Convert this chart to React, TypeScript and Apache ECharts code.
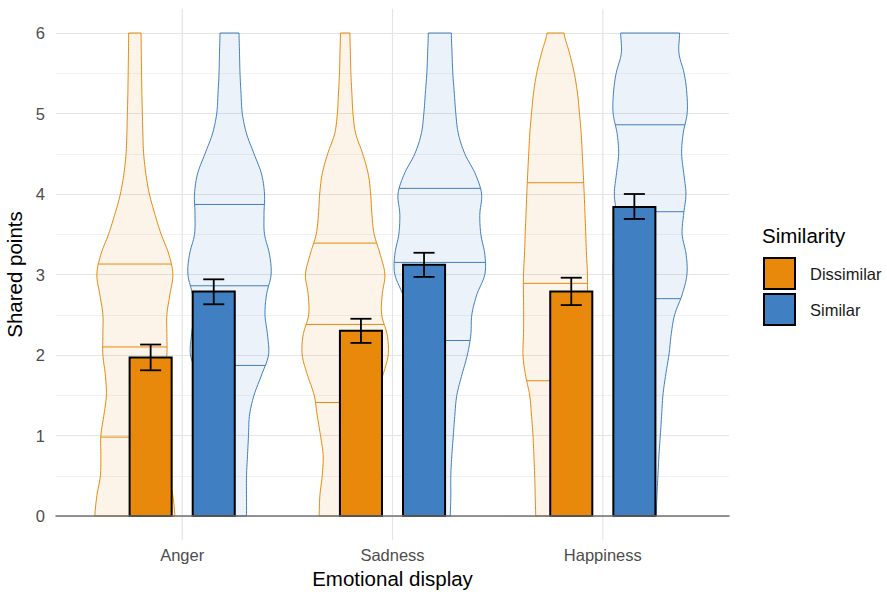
import React, { useEffect, useRef } from 'react';
import * as echarts from 'echarts';

// ---------------- data ----------------
const categories = ['Anger', 'Sadness', 'Happiness'];
const groups = ['Dissimilar', 'Similar'];

const meanDissimilar = [1.97, 2.3, 2.79];
const meanSimilar = [2.79, 3.12, 3.84];
const errLowDissimilar = [1.81, 2.15, 2.62];
const errHighDissimilar = [2.13, 2.45, 2.96];
const errLowSimilar = [2.63, 2.97, 3.69];
const errHighSimilar = [2.94, 3.27, 4.0];

const quartilesDissimilar = [
  [0.98, 2.1, 3.13],
  [1.41, 2.38, 3.39],
  [1.68, 2.89, 4.14],
];
const quartilesSimilar = [
  [1.87, 2.86, 3.87],
  [2.18, 3.15, 4.07],
  [2.7, 3.78, 4.86],
];

// violin density (relative width) sampled at these score levels
const densityLevels = [
  0, 0.25, 0.5, 0.75, 1, 1.25, 1.5, 1.75, 2, 2.25, 2.5, 2.75, 3, 3.25, 3.5, 3.75, 4, 4.25, 4.5,
  4.75, 5, 5.25, 5.5, 5.75, 6,
];
const densityAngerDissimilar = [
  0.4, 0.38, 0.345, 0.34, 0.34, 0.31, 0.285, 0.295, 0.32, 0.32, 0.32, 0.35, 0.38, 0.34, 0.263,
  0.2, 0.145, 0.11, 0.088, 0.08, 0.075, 0.07, 0.067, 0.064, 0.062,
];
const densitySadnessDissimilar = [
  0.26, 0.253, 0.23, 0.22, 0.247, 0.28, 0.31, 0.377, 0.43, 0.42, 0.365, 0.37, 0.397, 0.35, 0.29,
  0.267, 0.255, 0.23, 0.175, 0.105, 0.078, 0.067, 0.057, 0.052, 0.047,
];
const densityHappinessDissimilar = [
  0.198, 0.203, 0.208, 0.216, 0.225, 0.24, 0.258, 0.3, 0.325, 0.32, 0.318, 0.32, 0.32, 0.31,
  0.303, 0.295, 0.287, 0.278, 0.268, 0.257, 0.24, 0.22, 0.188, 0.14, 0.085,
];
const densityAngerSimilar = [
  0.17, 0.17, 0.17, 0.18, 0.19, 0.2, 0.245, 0.32, 0.39, 0.38, 0.355, 0.37, 0.416, 0.4, 0.35,
  0.345, 0.35, 0.32, 0.245, 0.17, 0.128, 0.115, 0.105, 0.1, 0.095,
];
const densitySadnessSimilar = [
  0.105, 0.11, 0.11, 0.12, 0.135, 0.15, 0.17, 0.22, 0.275, 0.31, 0.32, 0.37, 0.45, 0.45, 0.41,
  0.4, 0.418, 0.355, 0.25, 0.185, 0.16, 0.145, 0.13, 0.122, 0.115,
];
const densityHappinessSimilar = [
  0.062, 0.068, 0.078, 0.088, 0.102, 0.115, 0.128, 0.155, 0.188, 0.21, 0.245, 0.32, 0.368, 0.36,
  0.32, 0.335, 0.358, 0.337, 0.315, 0.33, 0.37, 0.367, 0.34, 0.288, 0.295,
];

const yTickValues = [0, 1, 2, 3, 4, 5, 6];

// ---------------- styling ----------------
const ORANGE = '#E8890C';
const BLUE = '#3F7FC2';
const ORANGE_FILL = 'rgba(232,137,12,0.09)';
const BLUE_FILL = 'rgba(63,127,194,0.10)';
const FONT = '"Liberation Sans", Arial, Helvetica, sans-serif';
const VIOLIN_OFFSET = 0.225;
const BAR_OFFSET = 0.15;
const BAR_HALF = 0.1;
const CAP_HALF = 0.05;
const DENSITY_SCALE = 0.4755; // axis units per density unit
const PANEL_EXPAND = 0.3; // panel extends this far beyond the y range (ggplot expansion)
const TICK_FONT = 16.5;
const TITLE_FONT = 20.5;

const densDis = [densityAngerDissimilar, densitySadnessDissimilar, densityHappinessDissimilar];
const densSim = [densityAngerSimilar, densitySadnessSimilar, densityHappinessSimilar];

function halfWidthAt(d: number[], y: number): number {
  const y0 = densityLevels[0];
  const step = densityLevels[1] - densityLevels[0];
  const n = d.length;
  let t = (y - y0) / step;
  if (t < 0) t = 0;
  if (t > n - 1) t = n - 1;
  let i = Math.floor(t);
  if (i >= n - 1) i = n - 2;
  const u = t - i;
  const p0 = d[Math.max(i - 1, 0)];
  const p1 = d[i];
  const p2 = d[Math.min(i + 1, n - 1)];
  const p3 = d[Math.min(i + 2, n - 1)];
  const v =
    0.5 *
    (2 * p1 +
      (-p0 + p2) * u +
      (2 * p0 - 5 * p1 + 4 * p2 - p3) * u * u +
      (-p0 + 3 * p1 - 3 * p2 + p3) * u * u * u);
  return Math.max(v, 0) * DENSITY_SCALE;
}

function makeViolin(dens: number[][], quart: number[][], offset: number, stroke: string, fill: string) {
  return (params: any, api: any) => {
    const ci = params.dataIndex;
    const cx = api.value(0) + offset;
    const d = dens[ci];
    const yStart = densityLevels[0];
    const yEnd = densityLevels[densityLevels.length - 1];
    const steps = 180;
    const left: number[][] = [];
    const right: number[][] = [];
    for (let k = 0; k <= steps; k++) {
      const y = yStart + ((yEnd - yStart) * k) / steps;
      const w = halfWidthAt(d, y);
      left.push(api.coord([cx - w, y]));
      right.push(api.coord([cx + w, y]));
    }
    const pts = left.concat(right.reverse());
    const children: any[] = [
      {
        type: 'polygon',
        shape: { points: pts },
        style: { fill, stroke, lineWidth: 1 },
      },
    ];
    quart[ci].forEach((q) => {
      const w = halfWidthAt(d, q);
      const a = api.coord([cx - w, q]);
      const b = api.coord([cx + w, q]);
      children.push({
        type: 'line',
        shape: { x1: a[0], y1: a[1], x2: b[0], y2: b[1] },
        style: { stroke, lineWidth: 1 },
      });
    });
    return { type: 'group', children };
  };
}

function makeBar(offset: number, color: string) {
  return (params: any, api: any) => {
    const cx = api.value(0) + offset;
    const mean = api.value(1);
    const lo = api.value(2);
    const hi = api.value(3);
    const b0 = api.coord([cx - BAR_HALF, 0]);
    const b1 = api.coord([cx + BAR_HALF, mean]);
    const e0 = api.coord([cx, lo]);
    const e1 = api.coord([cx, hi]);
    const c0 = api.coord([cx - CAP_HALF, lo]);
    const c1 = api.coord([cx + CAP_HALF, hi]);
    const errStyle = { stroke: '#000', lineWidth: 1.8 };
    return {
      type: 'group',
      children: [
        {
          type: 'rect',
          shape: { x: b0[0], y: b1[1], width: b1[0] - b0[0], height: b0[1] - b1[1] },
          style: { fill: color, stroke: '#000', lineWidth: 2 },
        },
        { type: 'line', shape: { x1: e0[0], y1: e0[1], x2: e1[0], y2: e1[1] }, style: errStyle },
        { type: 'line', shape: { x1: c0[0], y1: e0[1], x2: c1[0], y2: e0[1] }, style: errStyle },
        { type: 'line', shape: { x1: c0[0], y1: e1[1], x2: c1[0], y2: e1[1] }, style: errStyle },
      ],
    };
  };
}

export default function App() {
  const ref = useRef<HTMLDivElement>(null);
  useEffect(() => {
    if (!ref.current) return;
    const chart = echarts.init(ref.current, undefined, { renderer: 'svg' });
    const yMin = yTickValues[0];
    const yMax = yTickValues[yTickValues.length - 1];

    const barData = (means: number[], lo: number[], hi: number[]) =>
      categories.map((_, i) => [i + 1, means[i], lo[i], hi[i]]);
    const violinData = categories.map((_, i) => [i + 1, yMax]);

    chart.setOption({
      animation: false,
      textStyle: { fontFamily: FONT },
      grid: {
        left: 56,
        right: 158,
        top: 33,
        bottom: 76,
        containLabel: false,
        outerBoundsMode: 'none',
      },
      xAxis: {
        type: 'value',
        min: 0.4,
        max: 3.6,
        interval: 0.2,
        name: 'Emotional display',
        nameLocation: 'middle',
        nameGap: 48,
        nameTextStyle: { fontSize: TITLE_FONT, color: '#000', fontFamily: FONT },
        axisLine: { show: true, onZero: false, lineStyle: { color: '#707070', width: 1.6 } },
        axisTick: { show: false },
        splitLine: { show: false },
        axisLabel: {
          margin: 30,
          fontSize: TICK_FONT,
          color: '#4D4D4D',
          fontFamily: FONT,
          formatter: (v: number) => {
            const r = Math.round(v);
            return Math.abs(v - r) < 1e-6 && r >= 1 && r <= categories.length ? categories[r - 1] : '';
          },
        },
        z: 10,
      },
      yAxis: {
        type: 'value',
        min: yMin,
        max: yMax,
        interval: 1,
        name: 'Shared points',
        nameLocation: 'middle',
        nameGap: 28,
        nameTextStyle: { fontSize: TITLE_FONT, color: '#000', fontFamily: FONT },
        axisLine: { show: false },
        axisTick: { show: false },
        axisLabel: { margin: 11, fontSize: TICK_FONT, color: '#4D4D4D', fontFamily: FONT },
        splitLine: { show: true, lineStyle: { color: '#E5E5E5', width: 1.2 } },
        minorTick: { show: false, splitNumber: 2 },
        minorSplitLine: { show: true, lineStyle: { color: '#F0F0F0', width: 0.9 } },
      },
      legend: {
        orient: 'vertical',
        left: 763,
        top: 257,
        itemWidth: 31,
        itemHeight: 31,
        itemGap: 3,
        padding: 0,
        selectedMode: false,
        textStyle: { fontSize: TICK_FONT, color: '#1A1A1A', fontFamily: FONT, padding: [0, 0, 0, 10] },
        data: [
          { name: groups[0], icon: 'rect', itemStyle: { color: ORANGE, borderColor: '#000', borderWidth: 2 } },
          { name: groups[1], icon: 'rect', itemStyle: { color: BLUE, borderColor: '#000', borderWidth: 2 } },
        ],
      },
      graphic: [
        {
          type: 'text',
          left: 762,
          top: 225,
          style: { text: 'Similarity', fontSize: TITLE_FONT, fill: '#000', fontFamily: FONT },
        },
      ],
      series: [
        {
          type: 'custom',
          name: 'gridV',
          silent: true,
          z: 1,
          data: categories.map((_, i) => [i + 1, yMax]),
          encode: { x: 0, y: 1 },
          renderItem: (params: any, api: any) => {
            const a = api.coord([api.value(0), yMin - PANEL_EXPAND]);
            const b = api.coord([api.value(0), yMax + PANEL_EXPAND]);
            return {
              type: 'line',
              shape: { x1: a[0], y1: a[1], x2: b[0], y2: b[1] },
              style: { stroke: '#E5E5E5', lineWidth: 1.2 },
            };
          },
        },
        {
          type: 'custom',
          name: 'Dissimilar violin',
          silent: true,
          z: 2,
          data: violinData,
          encode: { x: 0, y: 1 },
          renderItem: makeViolin(densDis, quartilesDissimilar, -VIOLIN_OFFSET, ORANGE, ORANGE_FILL),
        },
        {
          type: 'custom',
          name: 'Similar violin',
          silent: true,
          z: 2,
          data: violinData,
          encode: { x: 0, y: 1 },
          renderItem: makeViolin(densSim, quartilesSimilar, VIOLIN_OFFSET, BLUE, BLUE_FILL),
        },
        {
          type: 'custom',
          name: groups[0],
          z: 3,
          itemStyle: { color: ORANGE },
          data: barData(meanDissimilar, errLowDissimilar, errHighDissimilar),
          encode: { x: 0, y: 1 },
          renderItem: makeBar(-BAR_OFFSET, ORANGE),
        },
        {
          type: 'custom',
          name: groups[1],
          z: 3,
          itemStyle: { color: BLUE },
          data: barData(meanSimilar, errLowSimilar, errHighSimilar),
          encode: { x: 0, y: 1 },
          renderItem: makeBar(BAR_OFFSET, BLUE),
        },
      ],
    });
    return () => chart.dispose();
  }, []);
  return (
    <div
      ref={ref}
      style={{ position: 'fixed', left: 0, top: 0, width: 887, height: 592, background: '#fff' }}
    />
  );
}
